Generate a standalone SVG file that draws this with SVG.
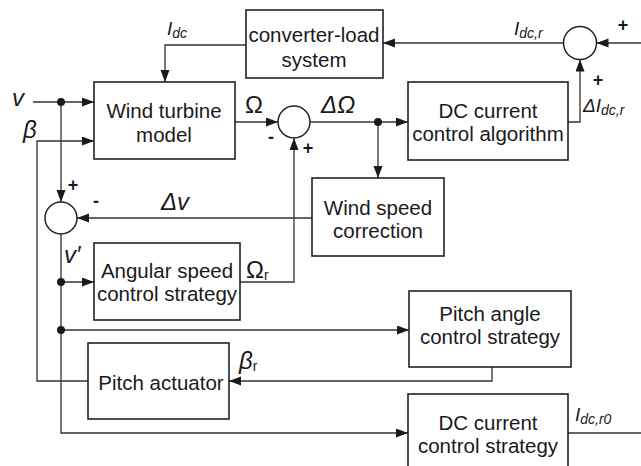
<svg xmlns="http://www.w3.org/2000/svg" width="641" height="466" viewBox="0 0 641 466">
<style>
.box{fill:#fff;stroke:#222;stroke-width:1.6}
.sum{fill:#fff;stroke:#222;stroke-width:1.5}
.ln{fill:none;stroke:#333;stroke-width:1.3}
.txt{font-family:"Liberation Sans",Arial,sans-serif;font-size:20.5px;fill:#1a1a1a;text-anchor:middle}
.lbl{font-family:"Liberation Sans",Arial,sans-serif;font-size:24px;font-style:italic;fill:#1a1a1a}
.up{font-style:normal}
.ilbl{font-family:"Liberation Sans",Arial,sans-serif;font-size:19px;font-style:italic;fill:#1a1a1a}
.sub{font-size:14px}
.sgn{font-family:"Liberation Sans",Arial,sans-serif;font-size:18px;font-weight:bold;fill:#1a1a1a;text-anchor:middle}
.dot{fill:#1a1a1a}
</style>
<defs>
<marker id="arr" markerUnits="userSpaceOnUse" markerWidth="13" markerHeight="10" refX="12" refY="4.5" orient="auto">
<path d="M0,0 L12,4.5 L0,9 z" fill="#1a1a1a"/>
</marker>
</defs>
<g id="connectors" class="ln" marker-end="url(#arr)">
<path d="M33,102 H94"/>
<path d="M88,381 H37 V141 H94"/>
<path d="M246,45 H165 V82"/>
<path d="M235,122 H278"/>
<path d="M310,122 H408"/>
<path d="M378,122 V178"/>
<path d="M568,122 H580 V59.5"/>
<path d="M641,43 H596.5"/>
<path d="M563.5,43 H383"/>
<path d="M312,218 H77"/>
<path d="M240,282 H294 V138"/>
<path d="M61,102 V202"/>
<path d="M61,234 V433 H408"/>
<path d="M61,282 H94"/>
<path d="M61,330 H409"/>
<path d="M492,367 V381 H229"/>
<path d="M568,433 H641" marker-end="none"/>
</g>
<g id="dots">
<circle class="dot" cx="61" cy="102" r="4"/>
<circle class="dot" cx="378" cy="122" r="4"/>
<circle class="dot" cx="61" cy="282" r="4"/>
<circle class="dot" cx="61" cy="330" r="4"/>
</g>
<g id="converter-load">
<rect class="box" x="246" y="10" width="137" height="68"/>
<text class="txt" x="314" y="42">converter-load</text>
<text class="txt" x="314" y="67">system</text>
</g>
<g id="wind-turbine">
<rect class="box" x="94" y="82" width="141" height="77"/>
<text class="txt" x="164" y="118">Wind turbine</text>
<text class="txt" x="164" y="142">model</text>
</g>
<g id="dc-algorithm">
<rect class="box" x="408" y="82" width="160" height="78"/>
<text class="txt" x="488" y="118">DC current</text>
<text class="txt" x="488" y="141">control algorithm</text>
</g>
<g id="wind-speed-correction">
<rect class="box" x="312" y="178" width="132" height="78"/>
<text class="txt" x="378" y="215">Wind speed</text>
<text class="txt" x="378" y="238">correction</text>
</g>
<g id="angular-speed">
<rect class="box" x="94" y="243" width="146" height="77"/>
<text class="txt" x="167" y="278">Angular speed</text>
<text class="txt" x="167" y="301">control strategy</text>
</g>
<g id="pitch-angle">
<rect class="box" x="409" y="291" width="162" height="76"/>
<text class="txt" x="490" y="321">Pitch angle</text>
<text class="txt" x="490" y="344">control strategy</text>
</g>
<g id="pitch-actuator">
<rect class="box" x="88" y="343" width="141" height="76"/>
<text class="txt" x="161" y="390">Pitch actuator</text>
</g>
<g id="dc-strategy">
<rect class="box" x="408" y="394" width="160" height="80"/>
<text class="txt" x="488" y="430">DC current</text>
<text class="txt" x="488" y="453">control strategy</text>
</g>
<g id="sum1">
<circle class="sum" cx="294" cy="122" r="16"/>
<text class="sgn" x="271" y="143">-</text>
<text class="sgn" x="308" y="154">+</text>
</g>
<g id="sum2">
<circle class="sum" cx="580" cy="43" r="16.5"/>
<text class="sgn" x="623" y="31">+</text>
<text class="sgn" x="598" y="86">+</text>
</g>
<g id="sum3">
<circle class="sum" cx="61" cy="218" r="16"/>
<text class="sgn" x="73" y="191">+</text>
<text class="sgn" x="96" y="207">-</text>
</g>
<g id="labels">
<text class="lbl" x="12" y="106">v</text>
<text class="lbl" x="23" y="138">β</text>
<text class="ilbl" x="167" y="35">I<tspan class="sub" dy="3">dc</tspan></text>
<text class="ilbl" x="514" y="35">I<tspan class="sub" dy="3">dc,r</tspan></text>
<text class="ilbl" x="583" y="112">ΔI<tspan class="sub" dy="3">dc,r</tspan></text>
<text class="ilbl" x="575" y="421">I<tspan class="sub" dy="3">dc,r0</tspan></text>
<text class="lbl up" x="245" y="113">Ω</text>
<text class="lbl" x="321" y="113">ΔΩ</text>
<text class="lbl" x="161" y="210">Δv</text>
<text class="lbl" x="64" y="263">v′</text>
<text class="lbl up" x="246" y="278">Ω<tspan class="sub" dy="2">r</tspan></text>
<text class="lbl" x="239" y="369">β<tspan class="sub up" dy="2">r</tspan></text>
</g>
</svg>
